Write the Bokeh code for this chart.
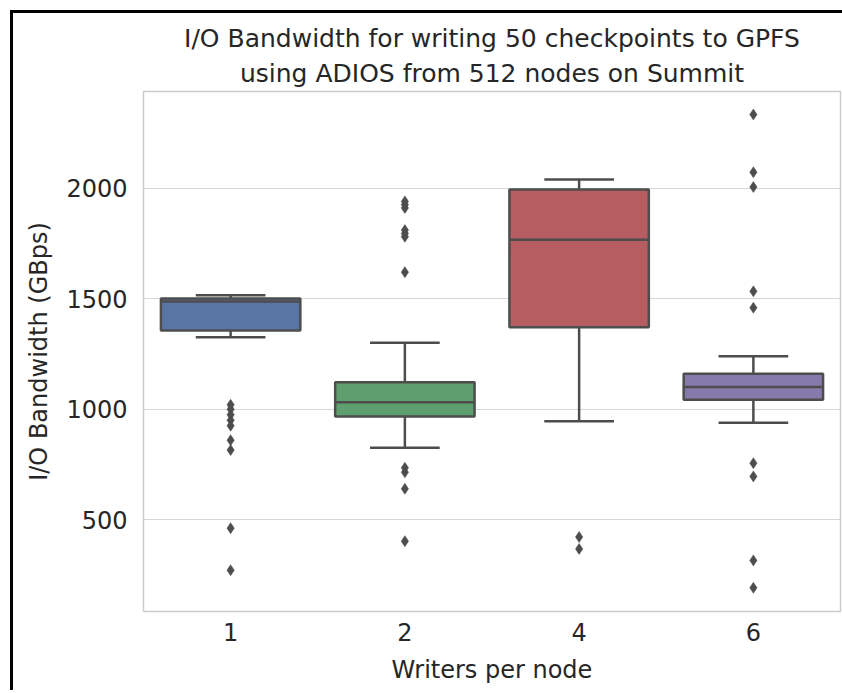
from bokeh.plotting import figure
from bokeh.models import FixedTicker, ColumnDataSource, Title
from bokeh.embed import file_html
from bokeh.resources import INLINE

# ---- data ----
categories = ["1", "2", "4", "6"]
q1 = [1356, 967, 1371, 1043]
median = [1487, 1032, 1767, 1100]
q3 = [1501, 1122, 1994, 1160]
whisker_lo = [1325, 826, 945, 939]
whisker_hi = [1515, 1301, 2039, 1239]
outliers_1 = [1020, 1000, 975, 950, 925, 860, 815, 462, 272]
outliers_2 = [1940, 1925, 1910, 1810, 1795, 1780, 1620, 735, 715, 640, 403]
outliers_4 = [422, 368]
outliers_6 = [2333, 2072, 2005, 1533, 1459, 756, 696, 316, 192]
colors = ["#5975a4", "#5f9e6e", "#b55d60", "#857aab"]
y_ticks = [500, 1000, 1500, 2000]

title_line1 = "I/O Bandwidth for writing 50 checkpoints to GPFS"
title_line2 = "using ADIOS from 512 nodes on Summit"
FONT = "DejaVu Sans"
TXT = "#262626"
EDGE = "#4d4d4d"

src = ColumnDataSource(dict(cat=categories, q1=q1, med=median, q3=q3,
                            lo=whisker_lo, hi=whisker_hi, color=colors))
out_x, out_y = [], []
for c, vals in zip(categories, [outliers_1, outliers_2, outliers_4, outliers_6]):
    out_x += [c] * len(vals)
    out_y += vals

p = figure(width=842, height=690, x_range=categories, y_range=(85, 2437),
           output_backend="svg", toolbar_location=None,
           min_border_left=143, min_border_right=2, min_border_top=91, min_border_bottom=79)
# black frame lines on the top and left of the picture (inset shadows behind the canvas)
p.styles = {"box-shadow": "inset 10px 10px 0px 0px white, inset 13px 13px 0px 0px black"}

t2 = Title(text=title_line2, align="center", text_font=FONT, text_font_size="25px",
           text_font_style="normal", text_color=TXT, standoff=8)
t1 = Title(text=title_line1, align="center", text_font=FONT, text_font_size="25px",
           text_font_style="normal", text_color=TXT, standoff=0)
p.add_layout(t2, "above")
p.add_layout(t1, "above")

p.background_fill_color = "white"
p.border_fill_color = None
p.outline_line_color = "#cccccc"
p.outline_line_width = 1.5

p.xgrid.grid_line_color = None
p.ygrid.grid_line_color = "#d6d6d6"
p.ygrid.grid_line_width = 1.2
p.yaxis.ticker = FixedTicker(ticks=y_ticks)

for ax in (p.xaxis[0], p.yaxis[0]):
    ax.axis_line_color = None
    ax.major_tick_line_color = None
    ax.minor_tick_line_color = None
    ax.major_tick_out = 0
    ax.major_tick_in = 0
    ax.major_label_text_font = FONT
    ax.major_label_text_font_size = "24px"
    ax.major_label_text_color = TXT
    ax.axis_label_text_font = FONT
    ax.axis_label_text_font_size = "24px"
    ax.axis_label_text_font_style = "normal"
    ax.axis_label_text_color = TXT

p.xaxis.axis_label = "Writers per node"
p.yaxis.axis_label = "I/O Bandwidth (GBps)"
p.xaxis.major_label_standoff = 11
p.xaxis.axis_label_standoff = 12
p.yaxis.major_label_standoff = 16
p.yaxis.axis_label_standoff = 10

LW = 2.5
# whiskers
p.segment(x0="cat", y0="q3", x1="cat", y1="hi", source=src, line_color=EDGE, line_width=LW)
p.segment(x0="cat", y0="q1", x1="cat", y1="lo", source=src, line_color=EDGE, line_width=LW)
# boxes
p.vbar(x="cat", bottom="q1", top="q3", width=0.8, source=src, fill_color="color",
       line_color=EDGE, line_width=LW)
# medians
p.vbar(x="cat", bottom="med", top="med", width=0.8, source=src, fill_color=None,
       line_color=EDGE, line_width=LW)
# caps
p.vbar(x="cat", bottom="hi", top="hi", width=0.4, source=src, fill_color=None,
       line_color=EDGE, line_width=LW)
p.vbar(x="cat", bottom="lo", top="lo", width=0.4, source=src, fill_color=None,
       line_color=EDGE, line_width=LW)
# outliers
p.scatter(x=out_x, y=out_y, marker="diamond", size=11, fill_color=EDGE, line_color=EDGE,
          line_width=0.5)

open("out.html", "w").write(file_html(p, INLINE))
